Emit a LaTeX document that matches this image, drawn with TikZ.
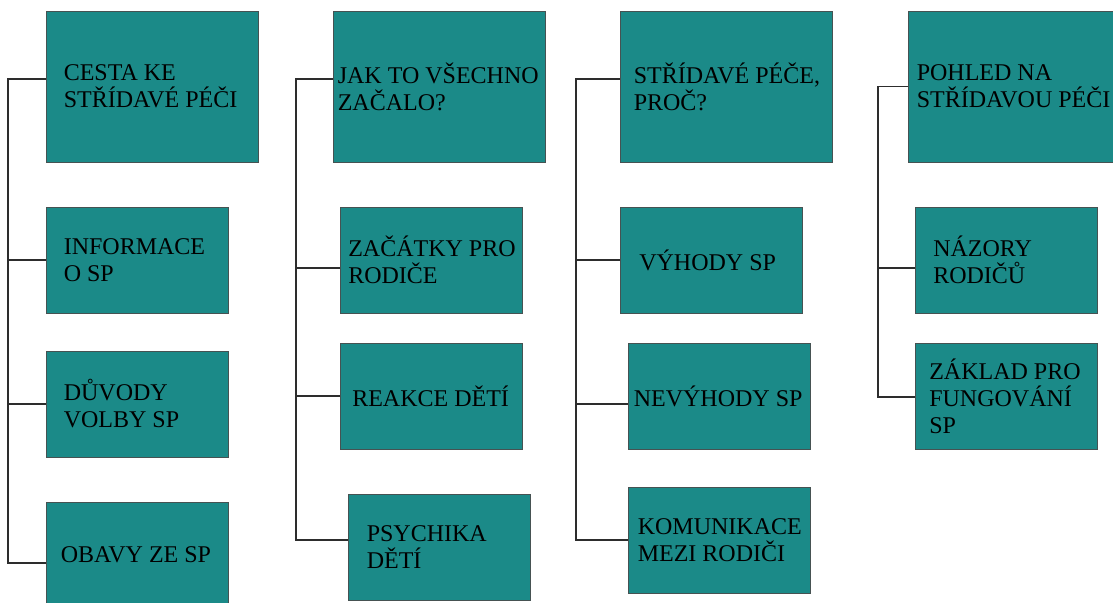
\documentclass[tikz,border=0pt]{standalone}
\usepackage{fontspec}
\setmainfont{Liberation Serif}
\definecolor{boxfill}{RGB}{27,138,136}
\definecolor{boxline}{RGB}{70,82,82}
\definecolor{connline}{RGB}{45,45,45}
\begin{document}
\begin{tikzpicture}[x=1pt,y=-1pt,
  box/.style={draw=boxline, line width=0.8pt, fill=boxfill, inner sep=0pt},
  bigbox/.style={box, minimum width=212pt, minimum height=151pt},
  smallbox/.style={box, minimum width=182pt, minimum height=106pt},
  conn/.style={draw=connline, line width=1.1pt},
  txt/.style={font=\fontsize{24}{27}\selectfont, align=left, inner sep=0pt, text=black, anchor=west}
]
\useasboundingbox (0,0) rectangle (1113,602);
\begin{scope}
\clip (0,0) rectangle (1113,602);
% column 1
\node[bigbox]   (a) at (152,86.5) {};
\node[smallbox] (b) at (137,260) {};
\node[smallbox] (c) at (137,404) {};
\node[smallbox] (d) at (137,555) {};
\node[txt] (at) at ([xshift=18pt]a.west) {CESTA KE\\STŘÍDAVÉ PÉČI};
\node[txt] (bt) at ([xshift=18pt]b.west) {INFORMACE\\O SP};
\node[txt] (ct) at ([xshift=18pt]c.west) {DŮVODY\\VOLBY SP};
\node[txt] (dt) at ([xshift=15pt]d.west) {OBAVY ZE SP};
% column 2
\node[bigbox]   (e) at (439,86.5) {};
\node[smallbox] (f) at (431.5,260) {};
\node[smallbox] (g) at (431.5,396) {};
\node[smallbox] (h) at (439,547) {};
\node[txt] (et) at ([xshift=5pt]e.west) {JAK TO VŠECHNO\\ZAČALO?};
\node[txt] (ft) at ([xshift=8pt]f.west) {ZAČÁTKY PRO\\RODIČE};
\node[txt] (gt) at ([xshift=12pt]g.west) {REAKCE DĚTÍ};
\node[txt] (ht) at ([xshift=19pt]h.west) {PSYCHIKA\\DĚTÍ};
% column 3
\node[bigbox]   (i) at (726,86.5) {};
\node[smallbox] (j) at (711.5,260) {};
\node[smallbox] (k) at (719,396) {};
\node[smallbox] (l) at (719,540) {};
\node[txt] (it) at ([xshift=14pt]i.west) {STŘÍDAVÉ PÉČE,\\PROČ?};
\node[txt] (jt) at ([xshift=19pt]j.west) {VÝHODY SP};
\node[txt] (kt) at ([xshift=6pt]k.west) {NEVÝHODY SP};
\node[txt] (lt) at ([xshift=10pt]l.west) {KOMUNIKACE\\MEZI RODIČI};
% column 4
\node[bigbox]   (m) at (1014,86.5) {};
\node[smallbox] (n) at (1006.5,260) {};
\node[smallbox] (o) at (1006.5,396) {};
\node[txt] (mt) at ([xshift=9pt]m.west) {POHLED NA\\STŘÍDAVOU PÉČI};
\node[txt] (nt) at ([xshift=18pt]n.west) {NÁZORY\\RODIČŮ};
\node[txt] (ot) at ([xshift=14pt]o.west) {ZÁKLAD PRO\\FUNGOVÁNÍ\\SP};
% trunk x positions
\coordinate (k1) at (8,0);
\coordinate (k2) at (296,0);
\coordinate (k3) at (576,0);
\coordinate (k4) at (878,0);
% connector end points on the boxes
\coordinate (pa) at ([yshift=7.5pt]a.west);
\coordinate (pb) at (b.west);
\coordinate (pc) at (c.west);
\coordinate (pd) at ([yshift=-8pt]d.west);
\coordinate (pe) at ([yshift=7.5pt]e.west);
\coordinate (pf) at ([yshift=-8pt]f.west);
\coordinate (pg) at (g.west);
\coordinate (ph) at ([yshift=7pt]h.west);
\coordinate (pi) at ([yshift=7.5pt]i.west);
\coordinate (pj) at (j.west);
\coordinate (pk) at ([yshift=-8pt]k.west);
\coordinate (pl) at (l.west);
\coordinate (pm) at (m.west);
\coordinate (pn) at ([yshift=-8pt]n.west);
\coordinate (po) at ([yshift=-1pt]o.west);
% connectors
\draw[conn] (pa) -- (pa -| k1) -- (pd -| k1) -- (pd);
\draw[conn] (pb) -- (pb -| k1);
\draw[conn] (pc) -- (pc -| k1);
\draw[conn] (pe) -- (pe -| k2) -- (ph -| k2) -- (ph);
\draw[conn] (pf) -- (pf -| k2);
\draw[conn] (pg) -- (pg -| k2);
\draw[conn] (pi) -- (pi -| k3) -- (pl -| k3) -- (pl);
\draw[conn] (pj) -- (pj -| k3);
\draw[conn] (pk) -- (pk -| k3);
\draw[conn] (pm) -- (pm -| k4) -- (po -| k4) -- (po);
\draw[conn] (pn) -- (pn -| k4);
\end{scope}
\end{tikzpicture}
\end{document}
